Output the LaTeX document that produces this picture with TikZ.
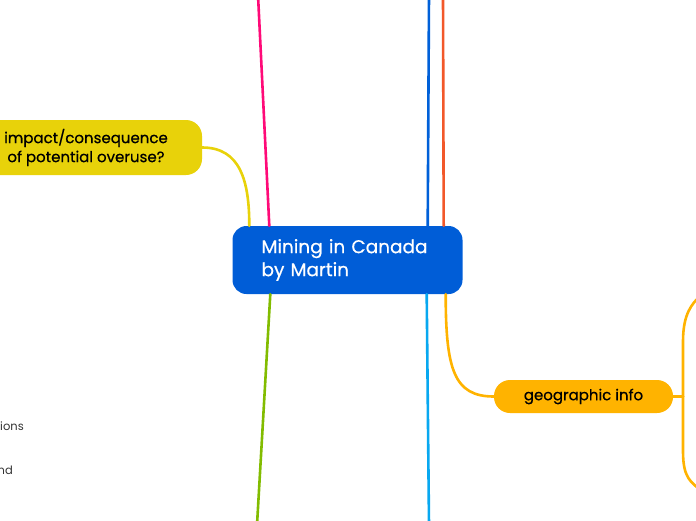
\documentclass[tikz,border=0pt]{standalone}
\usepackage{fontspec}
\setmainfont{Poppins}
\newfontfamily\medfont[FakeBold=0.6]{Poppins}
\usepackage{xcolor}
\usetikzlibrary{positioning,calc}

\definecolor{rootblue}{HTML}{005DD7}
\definecolor{impyellow}{HTML}{E8D20A}
\definecolor{geoorange}{HTML}{FFB300}
\definecolor{linkpink}{HTML}{FF0A78}
\definecolor{linkblue}{HTML}{0060D8}
\definecolor{linkred}{HTML}{F2582A}
\definecolor{linkgreen}{HTML}{82BC00}
\definecolor{linkcyan}{HTML}{08A8F0}
\definecolor{cuttext}{HTML}{333333}

\tikzset{
  topic/.style={fill=rootblue, text=white, rounded corners=14pt, align=left,
    font=\medfont\fontsize{18.5}{23}\selectfont, text width=172pt, inner xsep=29pt,
    minimum height=68pt},
  subtopic/.style={rounded corners=16pt, align=center, text=black,
    font=\medfont\fontsize{15}{19}\selectfont},
  branch/.style={line width=2.6pt, line cap=round},
  cut/.style={anchor=base east, text=cuttext, inner sep=0pt,
    font=\fontsize{11.5}{14}\selectfont}
}

\begin{document}
\begin{tikzpicture}[x=1pt, y=-1pt]
  \clip (0,0) rectangle (696,520);

  \node[topic] (cm) at (347.5,260) {Mining in Canada\\by Martin};
  \node[subtopic, fill=impyellow, minimum width=232pt, minimum height=55pt] (imp) at (86,147.5)
    {impact/consequence\\of potential overuse?};
  \node[subtopic, fill=geoorange, minimum width=179pt, minimum height=33pt] (geo) at (583.5,396.5)
    {geographic info};

  % branches leaving the picture
  \coordinate (pinkend) at (258,-5);
  \coordinate (blueend) at (429,-5);
  \coordinate (redend) at (443,-5);
  \coordinate (greenend) at (257,525);
  \coordinate (cyanend) at (429,525);
  \coordinate (br) at (683,396.5);
  \coordinate (brtop) at (700,296);
  \coordinate (brbot) at (700,490);

  \draw[branch, impyellow] (imp.east) .. controls +(38,0) and +(0,-45) .. ($(cm.north west)+(17,0)$);
  \draw[branch, linkpink] ($(cm.north west)+(37,0)$) -- (pinkend);
  \draw[branch, linkblue] ($(cm.north east)+(-35,0)$) -- (blueend);
  \draw[branch, linkred] ($(cm.north east)+(-19,0)$) -- (redend);
  \draw[branch, linkgreen] ($(cm.south west)+(38,0)$) -- (greenend);
  \draw[branch, linkcyan] ($(cm.south east)+(-36,0)$) -- (cyanend);
  \draw[branch, geoorange] ($(cm.south east)+(-17,0)$) .. controls +(0,75) and +(-40,0) .. (geo.west);

  \draw[branch, geoorange] (geo.east) -- (br);
  \draw[branch, geoorange] (br) -- ++(0,-55) .. controls +(0,-28) and +(-8,8) .. (brtop);
  \draw[branch, geoorange] (br) -- ++(0,55) .. controls +(0,28) and +(-8,-8) .. (brbot);

  \node[cut] (t1) at (24,430) {ions};
  \node[cut] (t2) at (13,474) {nd};
\end{tikzpicture}
\end{document}
